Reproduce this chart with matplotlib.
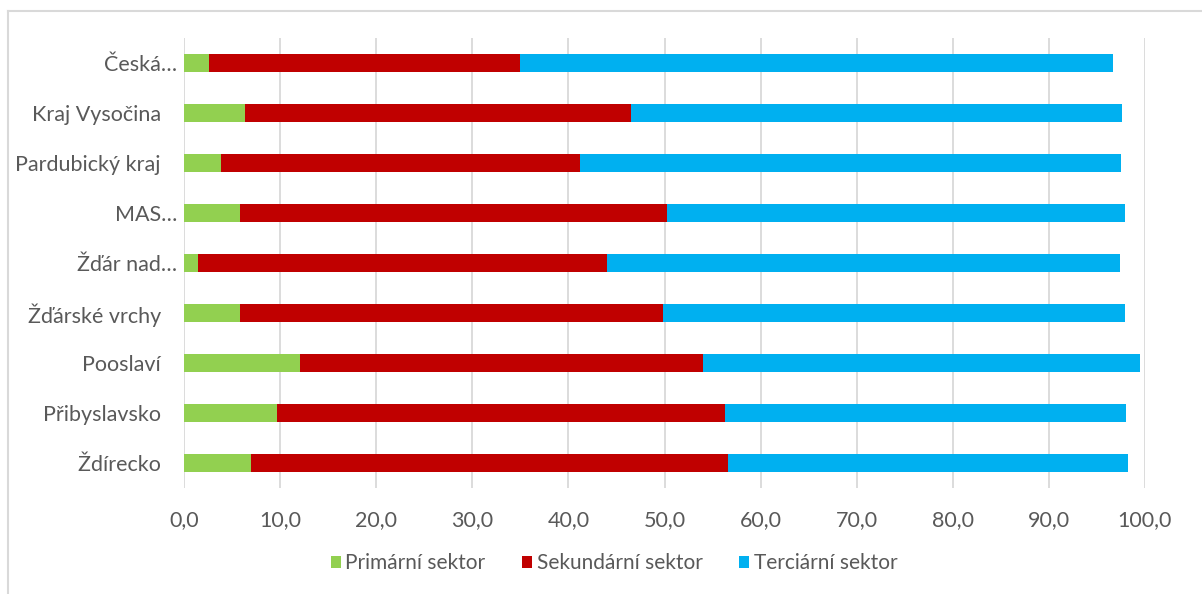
import matplotlib
matplotlib.use("Agg")
import matplotlib.pyplot as plt
from matplotlib.lines import Line2D
import numpy as np

categories = ["Česká…", "Kraj Vysočina   ", "Pardubický kraj   ", "MAS…", "Žďár nad…",
              "Žďárské vrchy   ", "Pooslaví   ", "Přibyslavsko   ", "Ždírecko   "]
primarni = [2.6, 6.3, 3.8, 5.8, 1.4, 5.8, 12.0, 9.7, 6.9]
sekundarni = [32.35, 40.25, 37.4, 44.5, 42.6, 44.0, 42.0, 46.6, 49.7]
terciarni = [61.8, 51.1, 56.3, 47.6, 53.4, 48.1, 45.5, 41.8, 41.7]
series_names = ["Primární sektor", "Sekundární sektor", "Terciární sektor"]
colors = ["#92d050", "#c00000", "#00b0f0"]
xticks = [0, 10, 20, 30, 40, 50, 60, 70, 80, 90, 100]

plt.rcParams['font.family'] = ['Lato', 'DejaVu Sans']

fig = plt.figure(figsize=(12.02, 5.94), dpi=100)
ax = fig.add_axes([184.3/1202, 1-488/594, (1144.7-184.3)/1202, 450/594])

y = np.arange(len(categories))
left = np.zeros(len(categories))
for vals, name, col in zip([primarni, sekundarni, terciarni], series_names, colors):
    ax.barh(y, vals, left=left, height=0.35, color=col, label=name, zorder=3)
    left = left + np.array(vals)

ax.set_ylim(len(categories) - 0.5, -0.5)
ax.set_yticks(y)
ax.set_yticklabels(categories)
ax.set_xlim(0, 100)
ax.set_xticks(xticks)
ax.set_xticklabels([f"{v:.1f}".replace(".", ",") for v in xticks])
ax.tick_params(axis='both', length=0, labelsize=15.5, colors="#595959")
ax.tick_params(axis='x', pad=16)
ax.tick_params(axis='y', pad=5)
ax.grid(axis='x', color="#d9d9d9", linewidth=1.3, zorder=0)
for s in ax.spines.values():
    s.set_visible(False)

fig.legend(loc='center', bbox_to_anchor=(614/1202, 1-563/594), ncol=3, frameon=False,
           fontsize=15, handlelength=0.5, handleheight=0.5, handletextpad=0.2,
           columnspacing=1.75, labelcolor="#595959")

# chart border
fig.add_artist(Line2D([7.5/1202, 7.5/1202], [0, 1-11/594], color="#d9d9d9", lw=1.5,
                      transform=fig.transFigure))
fig.add_artist(Line2D([7.5/1202, 1], [1-11/594, 1-11/594], color="#d9d9d9", lw=1.5,
                      transform=fig.transFigure))

fig.savefig("out.png", dpi=100)
